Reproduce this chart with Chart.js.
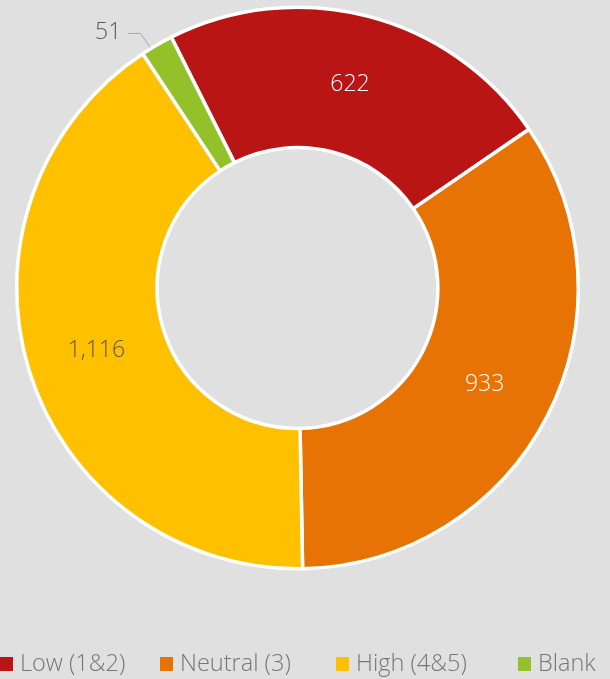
<!DOCTYPE html>
<html>
<head>
<meta charset="utf-8">
<script src="https://cdn.jsdelivr.net/npm/chart.js@4"></script>
<style>
  html, body { margin: 0; padding: 0; background: #e0e0e0; }
  #wrap { width: 610px; height: 679px; position: relative; }
</style>
</head>
<body>
<div id="wrap"><canvas id="donut" width="610" height="679"></canvas></div>
<script>
const categories = ['Low (1&2)', 'Neutral (3)', 'High (4&5)', 'Blank'];
const counts = [622, 933, 1116, 51];
const colors = ['#b91515', '#e87305', '#ffc000', '#94c12a'];
const labelColors = ['#ffffff', '#ffffff', '#595959', '#595959'];

const FONT = '"Open Sans", "DejaVu Sans", sans-serif';

// value labels, inside the ring, small ones pulled out with a leader line
const valueLabels = {
  id: 'valueLabels',
  afterDatasetsDraw(chart) {
    const ctx = chart.ctx;
    const meta = chart.getDatasetMeta(0);
    ctx.save();
    ctx.font = '300 23px ' + FONT;
    ctx.textBaseline = 'middle';
    meta.data.forEach((arc, i) => {
      const v = chart.data.datasets[0].data[i];
      const txt = v.toLocaleString('en-US');
      const p = arc.getProps(['x', 'y', 'startAngle', 'endAngle', 'innerRadius', 'outerRadius'], true);
      const mid = (p.startAngle + p.endAngle) / 2;
      if (p.endAngle - p.startAngle > 0.3) {
        const r = (p.innerRadius + p.outerRadius) / 2;
        ctx.fillStyle = labelColors[i];
        ctx.textAlign = 'center';
        ctx.fillText(txt, p.x + Math.cos(mid) * r, p.y + Math.sin(mid) * r);
      } else {
        const r0 = p.outerRadius + 3;
        const x0 = p.x + Math.cos(mid) * r0 - 5;
        const y0 = p.y + Math.sin(mid) * r0 + 5;
        const x1 = x0 - 10;
        const y1 = y0 - 14;
        const x2 = x1 - 12;
        ctx.strokeStyle = '#a6a6a6';
        ctx.lineWidth = 1;
        ctx.beginPath();
        ctx.moveTo(x0, y0);
        ctx.lineTo(x1, y1);
        ctx.lineTo(x2, y1);
        ctx.stroke();
        ctx.fillStyle = labelColors[i];
        ctx.textAlign = 'right';
        ctx.fillText(txt, x2 - 7, y1 - 1);
      }
    });
    ctx.restore();
  }
};

// legend along the bottom edge
const bottomLegend = {
  id: 'bottomLegend',
  afterDraw(chart) {
    const ctx = chart.ctx;
    const starts = [0, 160, 336, 518];
    ctx.save();
    ctx.font = '300 23.5px ' + FONT;
    ctx.textBaseline = 'middle';
    ctx.textAlign = 'left';
    chart.data.labels.forEach((lab, i) => {
      const x = starts[i];
      ctx.fillStyle = chart.data.datasets[0].backgroundColor[i];
      ctx.fillRect(x, 657, 13, 14);
      ctx.fillStyle = '#767676';
      ctx.fillText(lab, x + 20, 664);
    });
    ctx.restore();
  }
};

new Chart(document.getElementById('donut'), {
  type: 'doughnut',
  data: {
    labels: categories,
    datasets: [{
      data: counts,
      backgroundColor: colors,
      borderColor: '#ffffff',
      borderWidth: 3.5
    }]
  },
  options: {
    responsive: false,
    animation: false,
    rotation: -26.7,
    cutout: '50%',
    layout: { padding: { left: 15, right: 30, top: 5, bottom: 108 } },
    plugins: {
      legend: { display: false },
      tooltip: { enabled: false }
    }
  },
  plugins: [valueLabels, bottomLegend]
});
</script>
</body>
</html>
